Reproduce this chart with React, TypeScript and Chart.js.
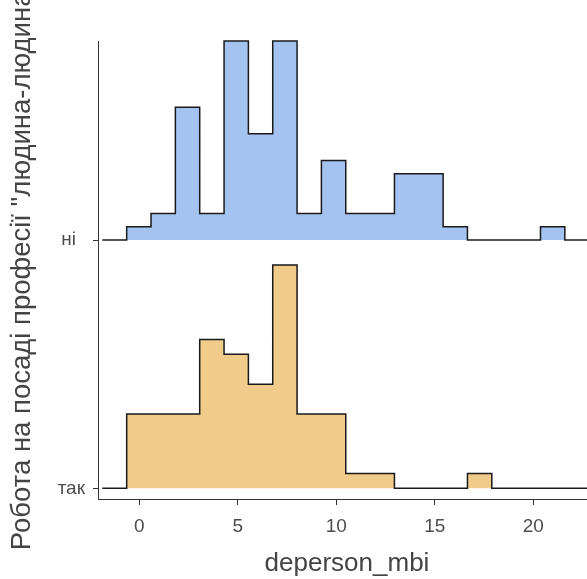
import { useEffect, useRef } from 'react';
import { Chart, registerables } from 'chart.js';
Chart.register(...registerables);

// groups (bottom → top)
const groupLabels = ['так', 'ні'];
// histogram bins of deperson_mbi
const binStart = -0.64;
const binWidth = 1.2356;
const niCounts = [1, 2, 10, 2, 15, 8, 15, 2, 6, 2, 2, 5, 5, 1, 0, 0, 0, 1, 0];
const takCounts = [5, 5, 5, 10, 9, 7, 15, 5, 5, 1, 1, 0, 0, 0, 1, 0, 0, 0, 0];
const niTotal = 83;
const takTotal = 74;
const ridgeScale = 5.48;
const xTicks = [0, 5, 10, 15, 20];
const xTitle = 'deperson_mbi';
const yTitle = 'Робота на посаді професії "людина-людина"';

const FONT = '"Liberation Sans", Arial, sans-serif';

function ridge(counts: number[], total: number, base: number) {
  const pts: { x: number; y: number }[] = [{ x: binStart - binWidth, y: base }];
  counts.forEach((c, i) => {
    pts.push({ x: binStart + i * binWidth, y: base + (c / (total * binWidth)) * ridgeScale });
  });
  pts.push({ x: binStart + counts.length * binWidth, y: base });
  pts.push({ x: 25, y: base });
  return pts;
}

const yTitlePlugin = {
  id: 'yTitleDraw',
  afterDraw(chart: any) {
    const ctx = chart.ctx;
    ctx.save();
    ctx.translate(22, 266);
    ctx.rotate(-Math.PI / 2);
    ctx.font = `27.5px ${FONT}`;
    ctx.fillStyle = '#444';
    ctx.textAlign = 'center';
    ctx.textBaseline = 'middle';
    ctx.fillText(yTitle, 0, 0);
    ctx.restore();
  },
};

export default function App() {
  const ref = useRef<HTMLCanvasElement>(null);
  useEffect(() => {
    if (!ref.current) return;
    const chart = new Chart(ref.current, {
      type: 'line',
      data: {
        datasets: [
          {
            label: groupLabels[1],
            data: ridge(niCounts, niTotal, 2),
            stepped: 'before',
            borderColor: '#1a1a1a',
            borderWidth: 1.5,
            backgroundColor: '#A5C3F1',
            fill: { value: 2 },
            pointRadius: 0,
            clip: false,
          },
          {
            label: groupLabels[0],
            data: ridge(takCounts, takTotal, 1),
            stepped: 'before',
            borderColor: '#1a1a1a',
            borderWidth: 1.5,
            backgroundColor: '#F0CB8A',
            fill: { value: 1 },
            pointRadius: 0,
            clip: false,
          },
        ],
      },
      options: {
        animation: false,
        responsive: false,
        devicePixelRatio: 1,
        layout: { padding: { top: 41, left: 0, right: 0, bottom: 0 } },
        plugins: { legend: { display: false }, tooltip: { enabled: false } },
        scales: {
          x: {
            type: 'linear',
            min: -2.096,
            max: 23.183,
            afterBuildTicks: (s: any) => {
              s.ticks = xTicks.map((v) => ({ value: v }));
            },
            afterFit: (s: any) => {
              s.height = 80;
            },
            grid: { display: true, drawOnChartArea: false, drawTicks: true, tickLength: 6, color: '#333', lineWidth: 1 },
            border: { display: true, color: '#333', width: 1 },
            ticks: { color: '#4d4d4d', font: { family: FONT, size: 19 }, padding: 10, maxRotation: 0 },
            title: {
              display: true,
              text: xTitle,
              color: '#444',
              font: { family: FONT, size: 26, lineHeight: 1.2 },
              padding: { top: 0, bottom: 0 },
            },
          },
          y: {
            type: 'linear',
            min: 0.9569,
            max: 2.8015,
            afterBuildTicks: (s: any) => {
              s.ticks = [{ value: 1 }, { value: 2 }];
            },
            afterFit: (s: any) => {
              s.width = 98;
            },
            grid: { display: true, drawOnChartArea: false, drawTicks: true, tickLength: 5, color: '#333', lineWidth: 1 },
            border: { display: true, color: '#333', width: 1 },
            ticks: {
              color: '#4d4d4d',
              font: { family: FONT, size: 19 },
              padding: 8,
              callback: (v: any) => (v === 2 ? groupLabels[1] + ' \u2009' : v === 1 ? groupLabels[0] : ''),
            },
            title: { display: false },
          },
        },
      },
      plugins: [yTitlePlugin],
    });
    return () => chart.destroy();
  }, []);
  return (
    <div style={{ position: 'absolute', left: 0, top: 0, width: 587, height: 579, overflow: 'hidden', background: '#fff' }}>
      <canvas ref={ref} width={596} height={579} style={{ width: 596, height: 579, display: 'block' }} />
    </div>
  );
}
